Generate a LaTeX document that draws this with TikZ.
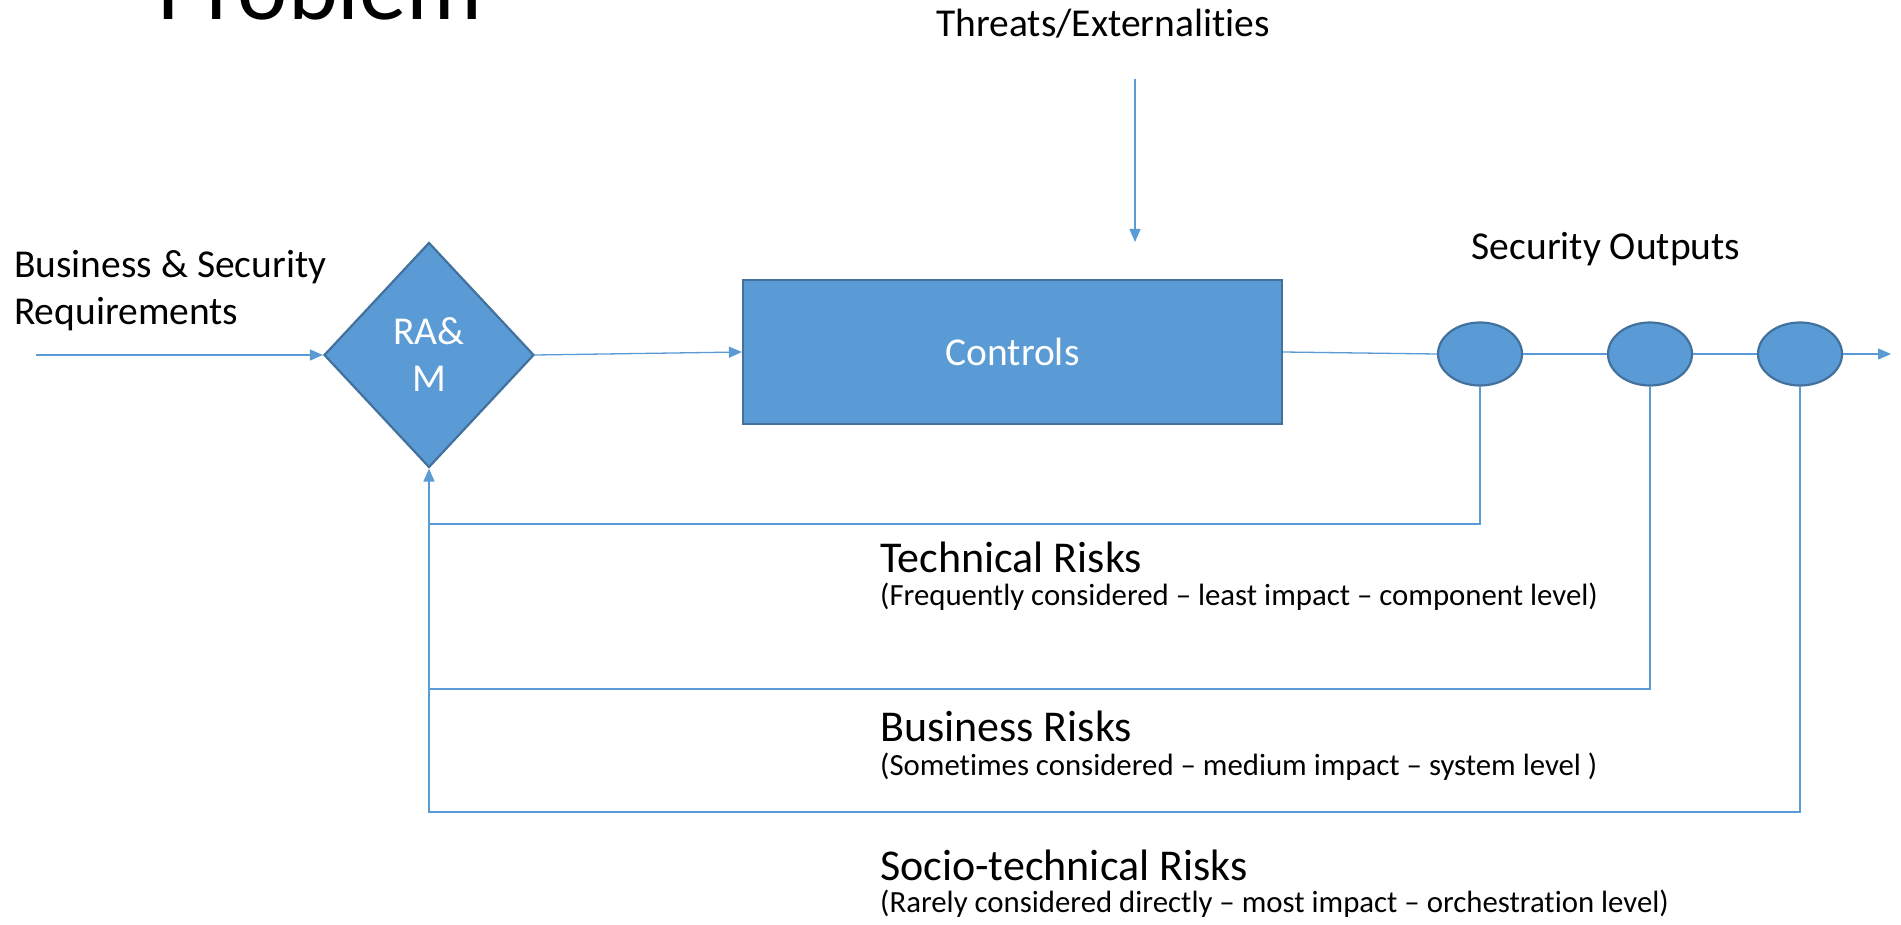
\documentclass[tikz,border=0pt]{standalone}
\usepackage{fontspec}
\setmainfont{Carlito}[Ligatures=NoCommon]
\usetikzlibrary{shapes.geometric,arrows.meta}
\definecolor{offblue}{HTML}{5B9BD5}
\definecolor{offborder}{HTML}{41719C}
\definecolor{linkblue}{HTML}{5B9BD5}
\tikzset{
  shapefill/.style={fill=offblue, draw=offborder, line width=2.2pt, text=white, inner sep=0pt},
  conn/.style={draw=linkblue, line width=1.3pt},
  arr/.style={conn, -{Triangle[length=13pt,width=11pt]}},
  lbl/.style={inner sep=0pt, text=black},
  big/.style={font=\fontsize{39.5}{47}\selectfont},
  risk/.style={font=\fontsize{44}{50}\selectfont},
  sub/.style={font=\fontsize{30.8}{36}\selectfont},
}
\begin{document}
\begin{tikzpicture}[x=1pt,y=-1pt]
\useasboundingbox (0,0) rectangle (1901,925);
\node[lbl, anchor=base west, font=\fontsize{95}{105}\selectfont] (title) at (157,19.5) {Problem};
\node[lbl, big, align=left, anchor=west] (req) at (14,290.5) {Business \& Security\\Requirements};
\node[lbl, big] (threat) at (1103,24) {Threats/Externalities};
\node[lbl, big] (secout) at (1606,249) {Security Outputs};

\node[shapefill, diamond, minimum width=210pt, minimum height=225pt, align=center, big] (dia) at (429,355) {RA\&\\M};
\node[shapefill, rectangle, minimum width=539pt, minimum height=144pt, big] (ctrl) at (1012.5,352) {Controls};
\node[shapefill, ellipse, minimum width=84pt, minimum height=63pt] (e1) at (1480,354) {};
\node[shapefill, ellipse, minimum width=84pt, minimum height=63pt] (e2) at (1650,354) {};
\node[shapefill, ellipse, minimum width=84pt, minimum height=63pt] (e3) at (1800,354) {};

\coordinate (in) at (36,355);
\coordinate (tin) at (1135,79);
\coordinate (tout) at (1135,242);
\coordinate (out) at (1891,354);
\coordinate (f1) at (429,524);
\coordinate (f2) at (429,689);
\coordinate (f3) at (429,812);

\draw[arr] (in) -- (dia.west);
\draw[arr] (dia.east) -- (ctrl.west);
\draw[arr] (tin) -- (tout);
\draw[conn] (ctrl.east) -- (e1.west);
\draw[conn] (e1.east) -- (e2.west);
\draw[conn] (e2.east) -- (e3.west);
\draw[arr] (e3.east) -- (out);
\draw[conn] (e1.south) |- (f1);
\draw[conn] (e2.south) |- (f2);
\draw[arr] (e3.south) |- (f3) -- (dia.south);

\node[lbl, risk, anchor=west] (tr) at (880,557) {Technical Risks};
\node[lbl, sub, anchor=west] (trs) at (880,597) {(Frequently considered – least impact – component level)};
\node[lbl, risk, anchor=west] (br) at (880,726) {Business Risks};
\node[lbl, sub, anchor=west] (brs) at (880,767) {(Sometimes considered – medium impact – system level )};
\node[lbl, risk, anchor=west] (sr) at (880,865) {Socio-technical Risks};
\node[lbl, sub, anchor=west] (srs) at (880,904) {(Rarely considered directly – most impact – orchestration level)};
\end{tikzpicture}
\end{document}
